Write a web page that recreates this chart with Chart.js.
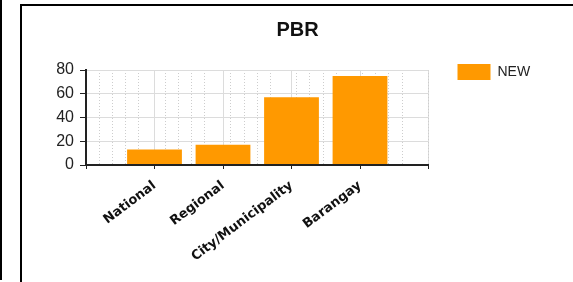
<!DOCTYPE html>
<html><head><meta charset="utf-8">
<script src="https://cdn.jsdelivr.net/npm/chart.js@4.4.0/dist/chart.umd.min.js"></script>
<style>
html,body{margin:0;padding:0;background:#fff;width:573px;height:282px;overflow:hidden;}
.ln{position:absolute;background:#000;}
#wrap{position:absolute;left:22px;top:6px;width:551px;height:276px;}
</style></head><body>
<div class="ln" style="left:0;top:0;width:2px;height:280px"></div>
<div class="ln" style="left:20px;top:4px;width:2px;height:278px"></div>
<div class="ln" style="left:20px;top:4px;width:553px;height:2px"></div>
<div id="wrap"><canvas id="c"></canvas></div>
<script>
const chartTitle = 'PBR';
const seriesName = 'NEW';
const categories = ['National', 'Regional', 'City/Municipality', 'Barangay'];
const newValues = [13, 17, 57, 75];
const yTicks = [0, 20, 40, 60, 80];

const labels = [''].concat(categories, ['']);
const data = [null].concat(newValues, [null]);

const LEG_PAD = 55;
const boxShift = {
  id: 'boxShift',
  afterLayout(chart) {
    const L = chart.legend;
    if (L) {
      const w = L.width, h = L.height;
      L.left = chart.chartArea.right + 29 - LEG_PAD;
      L.right = L.left + w;
      L.top = 58 - LEG_PAD;
      L.bottom = L.top + h;
    }
    const T = chart.titleBlock;
    if (T) {
      T.left = 0;
      T.right = chart.width;
    }
  }
};

new Chart(document.getElementById('c'), {
  type: 'bar',
  data: {
    labels: labels,
    datasets: [{
      label: seriesName,
      data: data,
      backgroundColor: '#FF9900',
      borderWidth: 0,
      categoryPercentage: 1,
      barPercentage: 0.8
    }]
  },
  options: {
    responsive: true,
    maintainAspectRatio: false,
    animation: false,
    layout: { padding: { left: 0, right: 9, top: 0, bottom: 0 } },
    plugins: {
      title: {
        display: true, text: chartTitle, color: '#111',
        font: { family: 'Liberation Sans, Arial, sans-serif', size: 20, weight: 'bold' },
        padding: { top: 12, bottom: 28 }
      },
      legend: {
        position: 'right', align: 'start',
        labels: {
          boxWidth: 33, boxHeight: 16, padding: LEG_PAD, color: '#222',
          font: { family: 'Liberation Sans, Arial, sans-serif', size: 14 }
        }
      },
      tooltip: { enabled: false }
    },
    scales: {
      x: {
        type: 'category', offset: false,
        grid: { offset: false, color: '#dcdcdc', tickColor: '#222', tickLength: 4 },
        border: { color: '#222', width: 2, z: 1 },
        ticks: {
          autoSkip: false, minRotation: 37, maxRotation: 37, padding: 9, color: '#111',
          font: { family: 'DejaVu Sans, sans-serif', size: 13, weight: 'bold' }
        },
        afterFit: s => { s.height = 117; }
      },
      xMinor: {
        type: 'linear', position: 'bottom', min: 0, max: 25,
        ticks: { display: false, stepSize: 1 },
        grid: {
          drawTicks: false,
          color: c => (c.tick && c.tick.value % 5 === 0) ? 'rgba(0,0,0,0)' : '#cdcdcd'
        },
        border: { display: false, dash: [1, 2] },
        afterFit: s => { s.height = 0; }
      },
      y: {
        min: 0, max: 80,
        afterBuildTicks: s => { s.ticks = yTicks.map(v => ({ value: v })); },
        ticks: {
          padding: 6, color: '#222',
          font: { family: 'Liberation Sans, Arial, sans-serif', size: 16 }
        },
        grid: { color: '#dcdcdc', tickColor: '#222', tickLength: 6 },
        border: { color: '#222', width: 2, z: 1 },
        afterFit: s => { s.width = 64; }
      }
    }
  },
  plugins: [boxShift]
});
</script>
</body></html>
